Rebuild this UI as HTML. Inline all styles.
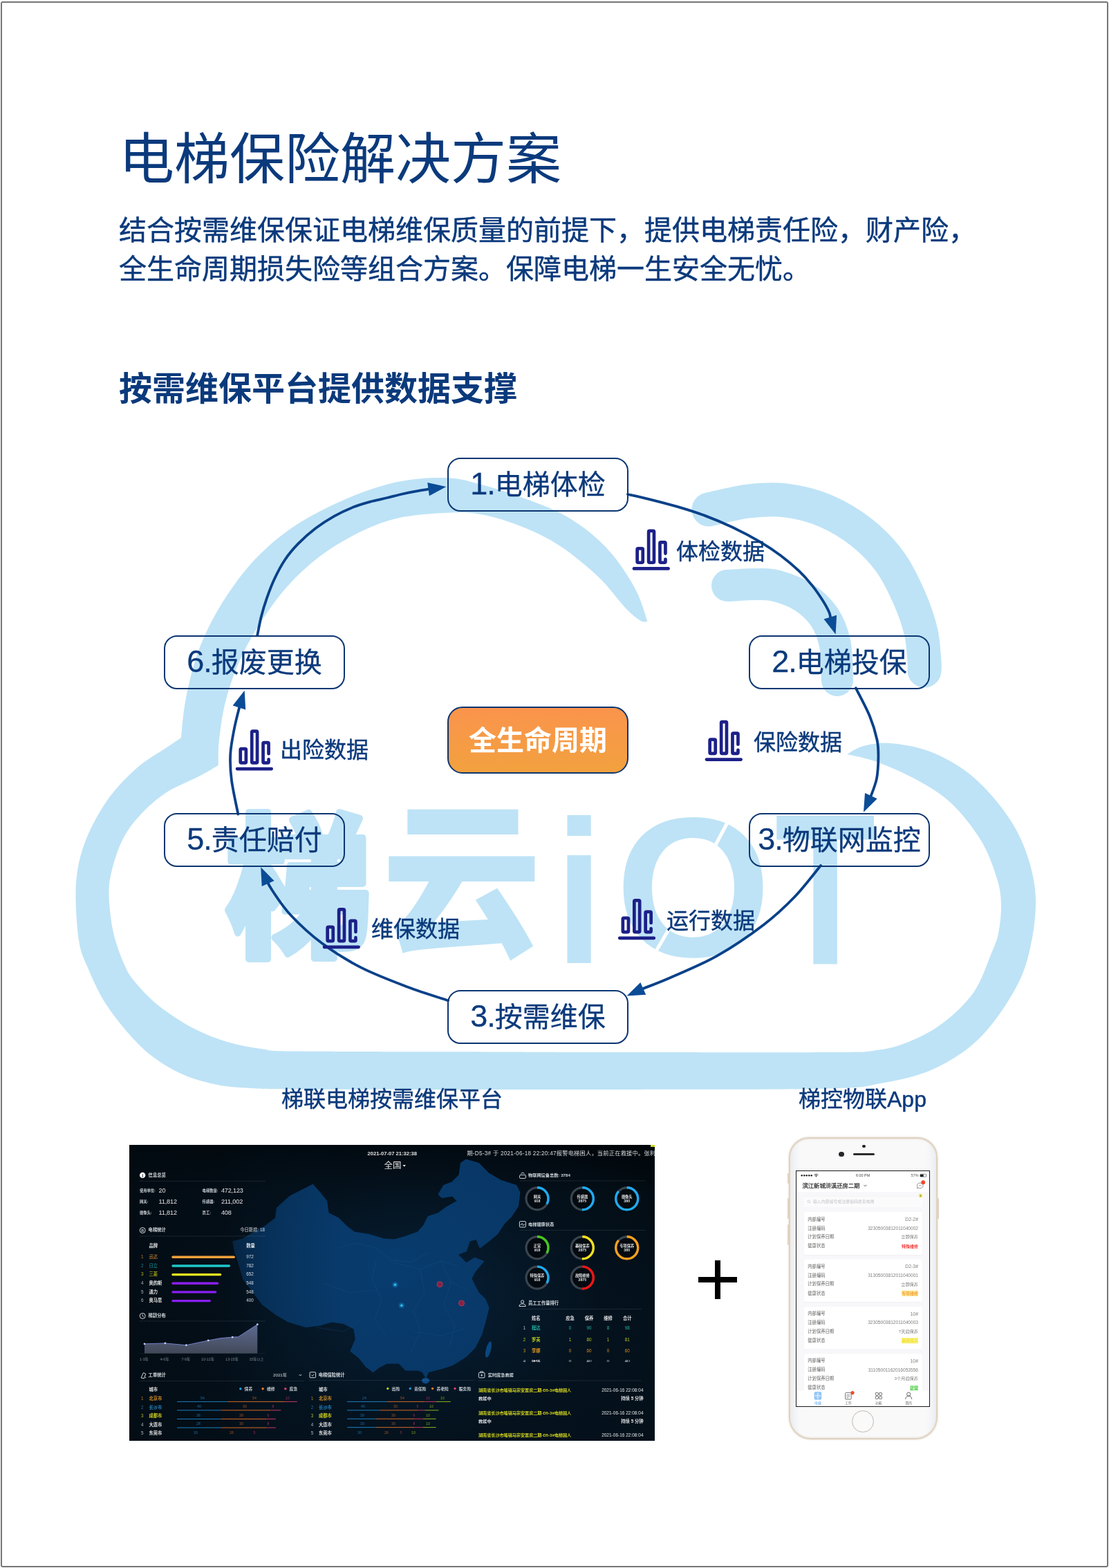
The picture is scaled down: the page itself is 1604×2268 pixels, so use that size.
<!DOCTYPE html>
<html lang="zh-CN">
<head>
<meta charset="utf-8">
<title>电梯保险解决方案</title>
<style>
*{box-sizing:border-box;margin:0;padding:0}
html,body{width:1604px;height:2268px;background:#fff;overflow:hidden}
body{font-family:"Liberation Sans","Noto Sans CJK SC",sans-serif;color:#0b3a7c;position:relative}
#desc,.lab,.cap{-webkit-text-stroke:.45px #0b3a7c}
.box{-webkit-text-stroke:.3px #0b3a7c}
.abs{position:absolute;white-space:nowrap}
.layer{position:absolute;left:0;top:0;width:1604px;height:2268px;pointer-events:none}
#frame{position:absolute;left:1px;top:2px;width:1602px;height:2265px;border:2px solid #757575;border-radius:3px}
#title{left:172px;top:171px;font-size:80px;line-height:120px;font-weight:400}
#desc{left:172px;top:304.5px;font-size:40px;line-height:56.5px;font-weight:400}
#sub{left:172px;top:527.5px;font-size:48px;line-height:70px;font-weight:700}
.box{position:absolute;width:262px;height:78px;border:2px solid #0b3672;border-radius:19px;font-size:40px;line-height:75px;text-align:center;white-space:nowrap}
.box b{font-weight:400;font-size:45px;letter-spacing:-1px;line-height:0}
#center{position:absolute;left:647px;top:1022px;width:262px;height:97px;border-radius:22px;border:2px solid #0b3672;background:linear-gradient(180deg,#fa944c,#f2a13f);color:#fff;font-size:40px;font-weight:700;line-height:94px;text-align:center}
.lab{position:absolute;font-size:32px;line-height:40px;white-space:nowrap}
.cap{position:absolute;font-size:32px;line-height:40px;white-space:nowrap}
#plus{position:absolute;left:1010px;top:1823px;width:56px;height:56px}
#plus:before,#plus:after{content:"";position:absolute;background:#000}
#plus:before{left:0;top:24px;width:56px;height:8px}
#plus:after{left:24px;top:0;width:8px;height:56px}

#dash{position:absolute;left:187px;top:1656px;width:760px;height:428px;overflow:hidden;background:#030b12}
#dash .bg{position:absolute;left:0;top:0;width:760px;height:428px;background:radial-gradient(ellipse 430px 290px at 410px 215px,rgba(10,50,88,.5),rgba(5,26,44,.3) 62%,rgba(3,12,20,0) 100%),linear-gradient(180deg,#01060a 0,#030c13 16%,#040f18 60%,#04101a 100%)}
#dash svg{position:absolute;left:0;top:0;width:760px;height:428px}
#dash .tx{position:absolute;left:0;top:0;width:1520px;height:856px;transform:scale(.5);transform-origin:0 0;opacity:.88;font-family:"Liberation Sans","Noto Sans CJK SC",sans-serif}
#dash .tx span{position:absolute;white-space:nowrap}


#phone{position:absolute;left:1140.7px;top:1645px;width:215.3px;height:437.4px;border-radius:29px 29px 32px 32px;background:linear-gradient(90deg,#e9edf2 0,#f2f4f7 3.5%,#f9f9fa 7%,#f9f9fa 93%,#f2f4f7 96.5%,#e9edf2 100%);border:2.4px solid #e0d2c0;box-shadow:inset 0 0 0 1.5px #f0ece7,0 0 2.5px rgba(170,155,135,.55)}
#phone .btn{position:absolute;width:1.6px;background:#e0d3c0;border-radius:1px}
#phone .cam{position:absolute;left:104.5px;top:8.8px;width:4.4px;height:4.4px;border-radius:50%;background:#222}
#phone .sen{position:absolute;left:70.6px;top:19px;width:7.4px;height:7.4px;border-radius:50%;background:#25272b}
#phone .spk{position:absolute;left:91.2px;top:21px;width:31px;height:3.4px;border-radius:2px;background:#2b2b2e}
#phone .home{position:absolute;left:89.6px;top:393.2px;width:31.6px;height:31.6px;border-radius:50%;border:1.6px solid #c9bfb4;background:#fafafa;box-shadow:inset 0 0 2px rgba(0,0,0,.12)}
#scr{position:absolute;left:1151.4px;top:1692.6px;width:193.7px;height:342.2px;border:1.2px solid #1a1a1a;background:#f8f8fa;overflow:hidden}
#scr .in{position:absolute;left:0;top:0;width:385px;height:682px;transform:scale(.5);transform-origin:0 0;font-family:"Liberation Sans","Noto Sans CJK SC",sans-serif}
#scr .in span,#scr .in i{position:absolute;white-space:nowrap;display:block;font-style:normal}
#scr svg{position:absolute;left:0;top:0;width:192.5px;height:341px}
#scr .hd{position:absolute;left:0;top:0;width:192.5px;height:30px;background:#fff}

</style>
</head>
<body>
<div id="frame"></div>
<svg id="cloud" class="layer" width="1604" height="2268" viewBox="0 0 1604 2268">
<g fill="#bee3f6" stroke="none">
<path d="M936.5 899.0C934.0 891.9 928.4 871.0 921.2 856.4C914.0 841.8 902.5 824.1 893.1 811.5C883.7 798.9 874.4 789.5 865.0 780.6C855.6 771.7 847.3 765.2 837.0 758.2C826.7 751.2 816.1 744.7 803.3 738.6C790.5 732.5 777.2 727.6 760.0 721.5C742.8 715.4 718.8 707.0 700.0 702.0C681.2 697.0 668.0 692.1 647.4 691.2C626.8 690.3 600.6 691.8 576.3 696.8C552.0 701.8 526.4 710.6 501.5 721.2C476.6 731.8 448.5 746.1 426.7 760.4C404.9 774.7 386.8 790.7 370.6 807.2C354.4 823.7 341.2 842.1 329.4 859.6C317.5 877.1 307.6 895.2 299.5 912.0C291.4 928.8 286.1 943.1 280.8 960.6C275.5 978.1 270.8 999.0 267.7 1016.7C264.6 1034.4 262.9 1058.6 262.0 1067.0C258.3 1069.5 249.6 1075.6 239.6 1082.3C229.6 1089.0 214.7 1096.9 202.2 1107.3C189.7 1117.7 175.2 1132.2 164.8 1144.7C154.4 1157.2 147.0 1169.5 139.9 1182.0C132.8 1194.5 127.0 1207.0 122.4 1219.5C117.8 1232.0 114.6 1243.6 112.4 1257.0C110.2 1270.4 109.2 1282.8 109.5 1300.0C109.8 1317.2 111.4 1344.2 114.0 1360.0C116.6 1375.8 118.1 1379.2 124.9 1395.0C131.7 1410.8 141.5 1434.8 154.8 1454.8C168.1 1474.8 188.1 1498.9 204.7 1514.7C221.3 1530.5 238.0 1540.9 254.6 1549.6C271.2 1558.3 287.8 1563.0 304.4 1567.0C321.0 1571.0 333.5 1572.1 354.3 1573.5C375.1 1574.9 371.4 1575.1 429.0 1575.5C486.6 1575.9 618.2 1575.9 700.0 1576.0C781.8 1576.1 836.8 1576.2 920.0 1576.0C1003.2 1575.8 1140.0 1576.0 1199.0 1574.5C1258.0 1573.0 1248.9 1571.6 1273.8 1567.0C1298.7 1562.4 1325.3 1557.4 1348.6 1547.0C1371.9 1536.6 1394.4 1522.5 1413.5 1504.7C1432.6 1486.9 1450.6 1460.8 1463.0 1440.0C1475.4 1419.2 1482.2 1403.2 1488.0 1380.0C1493.8 1356.8 1498.7 1325.7 1498.0 1301.0C1497.3 1276.3 1491.5 1253.2 1484.0 1232.0C1476.5 1210.8 1466.5 1192.7 1453.0 1174.0C1439.5 1155.3 1421.0 1134.5 1403.0 1120.0C1385.0 1105.5 1364.3 1094.5 1345.0 1087.0C1325.7 1079.5 1303.0 1076.3 1287.0 1075.0C1271.0 1073.7 1259.3 1076.3 1249.0 1079.0C1238.7 1081.7 1229.0 1089.0 1225.0 1091.0C1232.2 1092.8 1251.2 1095.8 1268.0 1102.0C1284.8 1108.2 1308.0 1118.0 1326.0 1128.0C1344.0 1138.0 1360.5 1147.3 1376.0 1162.0C1391.5 1176.7 1408.0 1197.8 1419.0 1216.0C1430.0 1234.2 1437.2 1255.5 1442.0 1271.0C1446.8 1286.5 1447.7 1295.8 1448.0 1309.0C1448.3 1322.2 1446.4 1338.2 1444.0 1350.0C1441.6 1361.8 1439.3 1365.8 1433.4 1380.0C1427.5 1394.2 1420.1 1418.3 1408.5 1434.9C1396.9 1451.5 1379.4 1467.8 1363.6 1479.8C1347.8 1491.8 1330.3 1500.5 1313.7 1507.2C1297.1 1513.9 1282.9 1517.2 1263.8 1519.7C1244.7 1522.2 1256.3 1521.6 1199.0 1522.0C1141.7 1522.4 1003.2 1522.1 920.0 1522.0C836.8 1521.9 781.8 1521.7 700.0 1521.5C618.2 1521.3 482.4 1521.3 429.0 1520.6C375.6 1519.9 395.9 1519.4 379.3 1517.2C362.7 1515.0 346.0 1512.2 329.4 1507.2C312.8 1502.2 296.1 1495.9 279.5 1487.2C262.9 1478.5 243.7 1466.0 229.6 1454.8C215.5 1443.6 203.3 1430.0 195.0 1420.0C186.7 1410.0 185.0 1406.8 179.8 1395.0C174.6 1383.2 167.7 1365.8 164.0 1349.0C160.3 1332.2 157.8 1309.3 157.5 1294.0C157.2 1278.7 159.0 1270.2 162.3 1257.0C165.6 1243.8 170.7 1227.4 177.3 1214.5C184.0 1201.6 191.8 1190.8 202.2 1179.6C212.6 1168.3 225.0 1156.6 239.6 1147.0C254.2 1137.4 276.8 1128.7 289.5 1122.0C302.2 1115.3 311.3 1109.5 315.7 1107.0C315.9 1100.8 315.3 1085.0 317.0 1070.0C318.7 1055.0 321.1 1034.9 325.7 1016.7C330.3 998.5 336.3 979.3 344.4 960.6C352.5 941.9 362.4 923.2 374.3 904.5C386.2 885.8 400.5 865.1 415.5 848.3C430.5 831.5 446.7 816.6 464.1 803.5C481.6 790.4 501.5 778.8 520.2 769.8C538.9 760.8 555.1 753.9 576.3 749.2C597.5 744.5 627.3 742.5 647.4 741.7C667.5 740.9 679.1 741.0 696.7 744.2C714.3 747.4 734.1 753.5 752.8 761.0C771.5 768.5 790.2 776.8 808.9 789.0C827.6 801.2 849.1 819.0 865.0 834.0C880.9 849.0 894.1 868.3 904.3 878.9C914.5 889.5 920.6 894.1 926.0 897.5C931.4 900.9 934.8 898.8 936.5 899.0Z"/>
</g>
<g fill="none" stroke="#bee3f6" stroke-linecap="round">
<path d="M1025.0 737.0C1034.5 735.0 1063.2 727.2 1082.0 725.0C1100.8 722.8 1119.0 721.7 1137.7 724.0C1156.4 726.3 1176.0 731.3 1194.0 739.0C1212.0 746.7 1230.4 757.7 1246.0 770.0C1261.6 782.3 1275.9 797.0 1287.4 812.8C1299.0 828.6 1307.9 848.1 1315.3 865.0C1322.7 881.9 1328.4 898.7 1332.0 914.0C1335.6 929.3 1336.2 947.7 1337.0 957.0C1337.8 966.3 1337.0 967.8 1337.0 970.0" stroke-width="49"/>
<path d="M1052.0 847.0C1059.5 846.7 1084.8 844.8 1097.0 845.0C1109.2 845.2 1114.2 844.9 1125.0 848.0C1135.8 851.1 1150.8 856.2 1162.0 863.5C1173.2 870.8 1184.4 880.8 1192.0 892.0C1199.6 903.2 1204.4 915.7 1207.6 931.0C1210.8 946.3 1210.4 975.2 1211.0 984.0" stroke-width="46"/>
</g>
<g fill="#bee3f6" stroke="none"><text transform="matrix(1.0503 0 0 1.1050 327.1 1364.5)" font-family='"Noto Sans CJK SC",sans-serif' font-weight="900" font-size="200" stroke="#bee3f6" stroke-width="9" stroke-linejoin="round">梯</text><text transform="matrix(1.1538 0 0 1.2099 552.6 1363.6)" font-family='"Noto Sans CJK SC",sans-serif' font-weight="900" font-size="200">云</text><text transform="matrix(1.2481 0 0 1.4759 803.0 1393.0)" font-family='"Liberation Sans",sans-serif' font-weight="700" font-size="200">i</text><text transform="matrix(1.9706 0 0 1.7436 881.9 1379.0)" font-family='"DejaVu Sans",sans-serif' font-weight="400" font-size="200" stroke="#bee3f6" stroke-width="2" stroke-linejoin="round">o</text><text transform="matrix(1.1949 0 0 1.5620 1120.6 1394.6)" font-family='"Liberation Sans",sans-serif' font-weight="700" font-size="200">T</text></g><g stroke="#fff" stroke-width="5" fill="none"><path d="M1029.5 1232.5L1053 1188"/><path d="M973 1334.5L947 1379"/></g>
</svg>
<div id="dash"><div class="bg"></div>
<svg viewBox="0 0 760 428">
<defs><radialGradient id="mg" cx="0.55" cy="0.5" r="0.6"><stop offset="0" stop-color="#083c6e"/><stop offset="1" stop-color="#083766"/></radialGradient><linearGradient id="ag" x1="0" y1="0" x2="0" y2="1"><stop offset="0" stop-color="#7a86b8" stop-opacity=".75"/><stop offset="1" stop-color="#8b8fa8" stop-opacity=".45"/></linearGradient></defs>
<polygon points="265.3,57.6 275.3,68.8 285.3,81.3 287.8,98.7 302.7,106.2 315.2,118.7 325.2,126.2 347.6,129.9 367.6,136.1 382.5,137.4 400.0,132.4 417.4,126.2 426.2,116.2 432.4,103.7 447.4,98.7 457.3,91.3 474.8,81.3 467.3,73.8 452.4,76.3 447.4,71.3 454.8,58.8 467.3,53.9 477.3,43.9 479.8,26.4 487.3,21.4 504.7,26.4 519.7,41.4 537.1,51.4 559.6,58.8 564.6,68.8 562.1,88.8 552.1,103.7 542.1,113.7 532.2,128.7 517.2,141.1 507.2,148.6 502.2,136.1 492.3,138.6 487.3,153.6 474.8,158.6 487.3,171.1 499.7,163.6 512.2,168.6 499.7,183.5 494.7,193.5 504.7,213.5 514.7,223.4 519.7,235.9 514.7,255.8 509.7,273.3 499.7,293.3 487.3,305.7 467.3,318.2 452.4,323.2 432.4,328.2 429.0,336.0 424.0,328.0 417.4,325.7 400.0,325.7 390.0,315.7 372.6,315.7 362.6,320.7 352.6,328.2 342.6,320.7 332.7,308.2 320.2,298.2 327.7,280.8 325.2,265.8 310.2,258.3 292.8,255.8 275.3,260.8 255.3,263.3 230.4,255.8 213.0,245.9 193.0,230.9 180.0,214.0 165.0,194.0 158.0,170.0 153.0,155.0 150.0,140.0 165.0,136.0 183.0,125.0 197.0,117.4 211.8,106.2 213.7,91.3 232.4,74.4 249.0,66.0" fill="url(#mg)" stroke="#083a6a" stroke-width="1.6" stroke-linejoin="round"/>
<ellipse cx="519.5" cy="296" rx="3.6" ry="12" transform="rotate(14 519.5 296)" fill="#0b477f"/>
<ellipse cx="428.5" cy="341" rx="5.5" ry="4.2" fill="#0c4a85"/>
<g fill="none" stroke="#1a5a96" stroke-width=".5" opacity=".55"><path d="M300 150l25 -8l30 6l22 18l30 4l24 -14M357 166l-6 30l14 26l-10 30l16 24M381 170l40 10l30 -12l26 8M421 180l6 34l-16 26l10 30l-14 30M451 168l14 30l24 12M465 198l-10 34l16 30l-8 30M280 200l40 14l36 -4M340 250l-30 20l-40 -6M411 270l40 6l34 -10"/></g>
<defs><linearGradient id="fd" x1="0" y1="0" x2="1" y2="0"><stop offset="0" stop-color="#030c14" stop-opacity=".7"/><stop offset=".45" stop-color="#030c14" stop-opacity=".5"/><stop offset=".62" stop-color="#04121e" stop-opacity=".22"/><stop offset="1" stop-color="#05182a" stop-opacity="0"/></linearGradient></defs><rect x="0" y="0" width="310" height="428" fill="url(#fd)"/>
<circle cx="384.5" cy="202.2" r="4" fill="#1aa0e0" opacity=".35"/><circle cx="384.5" cy="202.2" r="1.8" fill="#2cc0f5"/>
<circle cx="393.8" cy="232.2" r="4" fill="#1aa0e0" opacity=".35"/><circle cx="393.8" cy="232.2" r="1.8" fill="#2cc0f5"/>
<circle cx="449.1" cy="201.7" r="4" fill="#8a2040" stroke="#c04060" stroke-width=".8"/>
<circle cx="480.5" cy="228.9" r="4" fill="#8a2040" stroke="#c04060" stroke-width=".8"/>
<path d="M395.5 29l4.4 0l-2.2 2.4z" fill="#fff"/>
<rect x="754" y="0" width="6" height="3" fill="#c8d820"/>
<circle cx="19.2" cy="43.9" r="4.2" fill="#fff"/>
<rect x="14.5" y="52.1" width="182.4" height="0.6" fill="rgba(255,255,255,.16)"/>
<circle cx="19.2" cy="123.6" r="4" fill="none" stroke="#e8eef2" stroke-width=".9"/>
<rect x="14.5" y="131.7" width="182.4" height="0.6" fill="rgba(255,255,255,.16)"/>
<rect x="61.3" y="160.6" width="91.6" height="3.4" rx="1.7" fill="#f5a03a"/>
<rect x="61.3" y="173.3" width="84.7" height="3.4" rx="1.7" fill="#1ec8c8"/>
<rect x="61.3" y="185.9" width="72.0" height="3.4" rx="1.7" fill="#f5f51e"/>
<rect x="61.3" y="198.6" width="67.9" height="3.4" rx="1.7" fill="#8a1ef5"/>
<rect x="61.3" y="211.2" width="65.0" height="3.4" rx="1.7" fill="#8a1ef5"/>
<rect x="61.3" y="223.9" width="56.6" height="3.4" rx="1.7" fill="#8a1ef5"/>
<circle cx="19.2" cy="247.4" r="4" fill="none" stroke="#e8eef2" stroke-width=".9"/><path d="M19.2 245.0v2.6l1.8 1" fill="none" stroke="#e8eef2" stroke-width=".8"/>
<rect x="14.5" y="254.6" width="182.4" height="0.6" fill="rgba(255,255,255,.16)"/>
<path d="M22 301.6 L22.0 287.8 L51.9 286.9 L82.4 289.7 L114.2 282.9 L132.0 279.6 L149.2 278.1 L157.6 277.7 L185.3 259.7 L185.3 301.6Z" fill="url(#ag)"/>
<path d="M22.0 287.8 L51.9 286.9 L82.4 289.7 L114.2 282.9 L132.0 279.6 L149.2 278.1 L157.6 277.7 L185.3 259.7" fill="none" stroke="#7c8ad8" stroke-width=".9"/>
<circle cx="22.0" cy="287.8" r="1.4" fill="#c8d0f5"/>
<circle cx="51.9" cy="286.9" r="1.4" fill="#c8d0f5"/>
<circle cx="82.4" cy="289.7" r="1.4" fill="#c8d0f5"/>
<circle cx="114.2" cy="282.9" r="1.4" fill="#c8d0f5"/>
<circle cx="149.2" cy="278.1" r="1.4" fill="#c8d0f5"/>
<circle cx="185.3" cy="259.7" r="1.4" fill="#c8d0f5"/>
<rect x="14.5" y="301.5" width="182.4" height="0.6" fill="rgba(255,255,255,.10)"/>
<path d="M17 337l3.4 -7.4l3.4 1.6l-2.4 6.6z" fill="none" stroke="#e8eef2" stroke-width=".9"/><circle cx="23.6" cy="336.6" r=".7" fill="#e8eef2"/>
<path d="M245.6 332l1.8 1.9l1.8 -1.9" fill="none" stroke="#e8eef2" stroke-width=".9"/>
<rect x="14.5" y="341.2" width="238.5" height="0.6" fill="rgba(255,255,255,.16)"/>
<circle cx="160.8" cy="352.7" r="1.7" fill="#1ea0e6"/>
<circle cx="193.1" cy="352.7" r="1.7" fill="#f57e28"/>
<circle cx="225.8" cy="352.7" r="1.7" fill="#f03c78"/>
<rect x="69.1" y="370.9" width="73.5" height="0.9" fill="#1e8cd2"/>
<rect x="142.6" y="370.9" width="82.3" height="0.9" fill="#e8742a"/>
<rect x="224.9" y="370.9" width="17.8" height="0.9" fill="#e03c6e"/>
<rect x="69.1" y="383.4" width="63.8" height="0.9" fill="#1e8cd2"/>
<rect x="132.9" y="383.4" width="71.4" height="0.9" fill="#e8742a"/>
<rect x="204.3" y="383.4" width="15.0" height="0.9" fill="#e03c6e"/>
<rect x="69.1" y="396.1" width="63.8" height="0.9" fill="#1e8cd2"/>
<rect x="132.9" y="396.1" width="65.8" height="0.9" fill="#e8742a"/>
<rect x="198.7" y="396.1" width="13.1" height="0.9" fill="#e03c6e"/>
<rect x="69.1" y="408.6" width="63.8" height="0.9" fill="#1e8cd2"/>
<rect x="132.9" y="408.6" width="65.8" height="0.9" fill="#e8742a"/>
<rect x="198.7" y="408.6" width="13.1" height="0.9" fill="#e03c6e"/>
<rect x="261.0" y="328.7" width="8.6" height="8" rx="1.2" fill="none" stroke="#e8eef2" stroke-width=".9"/><path d="M263.3 332.7l1.6 1.6l2.4 -2.8" fill="none" stroke="#e8eef2" stroke-width=".8"/>
<rect x="260.3" y="340.3" width="239.4" height="0.6" fill="rgba(255,255,255,.16)"/>
<circle cx="373.8" cy="352.4" r="1.6" fill="#b4e61e"/>
<circle cx="406.2" cy="352.4" r="1.6" fill="#1ea0e6"/>
<circle cx="438.6" cy="352.4" r="1.6" fill="#f57e28"/>
<circle cx="471.0" cy="352.4" r="1.6" fill="#f03c78"/>
<rect x="315.2" y="370.9" width="57.4" height="0.9" fill="#1e8cd2"/>
<rect x="372.6" y="370.9" width="54.8" height="0.9" fill="#e8742a"/>
<rect x="427.4" y="370.9" width="16.2" height="0.9" fill="#e03c6e"/>
<rect x="443.6" y="370.9" width="21.2" height="0.9" fill="#9ac81e"/>
<rect x="315.2" y="383.4" width="47.4" height="0.9" fill="#1e8cd2"/>
<rect x="362.6" y="383.4" width="54.8" height="0.9" fill="#e8742a"/>
<rect x="417.4" y="383.4" width="10.0" height="0.9" fill="#e03c6e"/>
<rect x="427.4" y="383.4" width="20.0" height="0.9" fill="#9ac81e"/>
<rect x="315.2" y="395.8" width="41.8" height="0.9" fill="#1e8cd2"/>
<rect x="357.0" y="395.8" width="55.0" height="0.9" fill="#e8742a"/>
<rect x="412.0" y="395.8" width="13.0" height="0.9" fill="#e03c6e"/>
<rect x="425.0" y="395.8" width="18.6" height="0.9" fill="#9ac81e"/>
<rect x="315.2" y="408.2" width="41.8" height="0.9" fill="#1e8cd2"/>
<rect x="357.0" y="408.2" width="55.0" height="0.9" fill="#e8742a"/>
<rect x="412.0" y="408.2" width="13.0" height="0.9" fill="#e03c6e"/>
<rect x="425.0" y="408.2" width="18.6" height="0.9" fill="#9ac81e"/>
<path d="M564.6 47.4v-2.6q0 -1.4 1.4 -1.4h6q1.4 0 1.4 1.4v2.6q0 1 -1 1h-6.8q-1 0 -1 -1zM566.4 41.4q2.6 -2.4 5.2 0" fill="none" stroke="#e8eef2" stroke-width=".9"/>
<rect x="564.9" y="51.7" width="181.5" height="0.6" fill="rgba(255,255,255,.16)"/>
<circle cx="590.0" cy="77.8" r="16" fill="#030a10" stroke="#39444e" stroke-width="3.2"/>
<circle cx="590.0" cy="77.8" r="16" fill="none" stroke="#1eaaf0" stroke-width="3.4" stroke-dasharray="33.18 100.53" transform="rotate(-90 590.0 77.8)"/>
<circle cx="655.3" cy="77.8" r="16" fill="#030a10" stroke="#39444e" stroke-width="3.2"/>
<circle cx="655.3" cy="77.8" r="16" fill="none" stroke="#1eaaf0" stroke-width="3.4" stroke-dasharray="50.27 100.53" transform="rotate(-90 655.3 77.8)"/>
<circle cx="719.7" cy="77.8" r="16" fill="#030a10" stroke="#39444e" stroke-width="3.2"/>
<circle cx="719.7" cy="77.8" r="16" fill="none" stroke="#1eaaf0" stroke-width="3.4" stroke-dasharray="86.46 100.53" transform="rotate(-90 719.7 77.8)"/>
<rect x="564.4" y="110.6" width="9" height="8.4" rx="1.2" fill="none" stroke="#e8eef2" stroke-width=".9"/><path d="M565.6 115.4h1.6l1 -2l1.4 3.4l1 -1.6h1.8" fill="none" stroke="#e8eef2" stroke-width=".7"/>
<rect x="564.9" y="123.1" width="181.5" height="0.6" fill="rgba(255,255,255,.16)"/>
<circle cx="590.0" cy="148.8" r="16" fill="#030a10" stroke="#39444e" stroke-width="3.2"/>
<circle cx="590.0" cy="148.8" r="16" fill="none" stroke="#46c81e" stroke-width="3.4" stroke-dasharray="33.18 100.53" transform="rotate(-90 590.0 148.8)"/>
<circle cx="655.3" cy="148.8" r="16" fill="#030a10" stroke="#39444e" stroke-width="3.2"/>
<circle cx="655.3" cy="148.8" r="16" fill="none" stroke="#f5e11e" stroke-width="3.4" stroke-dasharray="50.27 100.53" transform="rotate(-90 655.3 148.8)"/>
<circle cx="719.7" cy="148.8" r="16" fill="#030a10" stroke="#39444e" stroke-width="3.2"/>
<circle cx="719.7" cy="148.8" r="16" fill="none" stroke="#f5a01e" stroke-width="3.4" stroke-dasharray="86.46 100.53" transform="rotate(-90 719.7 148.8)"/>
<circle cx="590.0" cy="192.1" r="16" fill="#030a10" stroke="#39444e" stroke-width="3.2"/>
<circle cx="590.0" cy="192.1" r="16" fill="none" stroke="#1eaaf0" stroke-width="3.4" stroke-dasharray="33.18 100.53" transform="rotate(-90 590.0 192.1)"/>
<circle cx="655.3" cy="192.1" r="16" fill="#030a10" stroke="#39444e" stroke-width="3.2"/>
<circle cx="655.3" cy="192.1" r="16" fill="none" stroke="#f01414" stroke-width="3.4" stroke-dasharray="50.27 100.53" transform="rotate(-90 655.3 192.1)"/>
<circle cx="568.6" cy="226.9" r="2.1" fill="none" stroke="#e8eef2" stroke-width=".9"/><path d="M564.0 233.5q0 -3.6 4.6 -3.6q4.6 0 4.6 3.6z" fill="none" stroke="#e8eef2" stroke-width=".9"/>
<rect x="564.9" y="237.3" width="175.9" height="0.6" fill="rgba(255,255,255,.16)"/>
<rect x="505.4" y="329.4" width="8.6" height="7.4" rx="1.2" fill="none" stroke="#e8eef2" stroke-width=".9"/><path d="M507.8 329.2v-1.4h3.8v1.4M509.7 331.4v3.4M508 333.1h3.4" fill="none" stroke="#e8eef2" stroke-width=".8"/>
<rect x="504.0" y="340.7" width="236.8" height="0.6" fill="rgba(255,255,255,.16)"/>
</svg>
<div class="tx">
<span style="top:14.2px;font-size:15.2px;line-height:21.3px;color:#fff;left:660.6px;width:200px;text-align:center;font-weight:700;">2021-07-07 21:32:38</span>
<span style="top:42.3px;font-size:25.0px;line-height:35.0px;color:#fff;left:662.0px;width:200px;text-align:center;">全国</span>
<span style="top:11.5px;font-size:16.4px;line-height:23.0px;color:#eef2f5;left:976.8px;letter-spacing:0.5px;">期-D5-3# 于 2021-06-18 22:20:47报警电梯困人，当前正在救援中。张利</span>
<span style="top:77.9px;font-size:14.4px;line-height:20.2px;color:#06121c;left:-61.6px;width:200px;text-align:center;font-weight:700;">i</span>
<span style="top:79.0px;font-size:12.6px;line-height:17.6px;color:#eef3f6;left:55.2px;font-weight:700;">信息总览</span>
<span style="top:124.6px;font-size:10.6px;line-height:14.8px;color:#dfe6ea;left:29.8px;font-weight:700;">使用单位:</span>
<span style="top:119.3px;font-size:18.2px;line-height:25.5px;color:#fff;left:85.2px;letter-spacing:-0.3px;">20</span>
<span style="top:124.6px;font-size:10.6px;line-height:14.8px;color:#dfe6ea;left:211.2px;font-weight:700;">电梯数量:</span>
<span style="top:119.3px;font-size:18.2px;line-height:25.5px;color:#fff;left:265.8px;letter-spacing:-0.3px;">472,123</span>
<span style="top:157.2px;font-size:10.6px;line-height:14.8px;color:#dfe6ea;left:29.8px;font-weight:700;">网关:</span>
<span style="top:151.9px;font-size:18.2px;line-height:25.5px;color:#fff;left:85.2px;letter-spacing:-0.3px;">11,812</span>
<span style="top:157.2px;font-size:10.6px;line-height:14.8px;color:#dfe6ea;left:211.2px;font-weight:700;">传感器:</span>
<span style="top:151.9px;font-size:18.2px;line-height:25.5px;color:#fff;left:265.8px;letter-spacing:-0.3px;">211,002</span>
<span style="top:189.4px;font-size:10.6px;line-height:14.8px;color:#dfe6ea;left:29.8px;font-weight:700;">摄像头:</span>
<span style="top:184.1px;font-size:18.2px;line-height:25.5px;color:#fff;left:85.2px;letter-spacing:-0.3px;">11,812</span>
<span style="top:189.4px;font-size:10.6px;line-height:14.8px;color:#dfe6ea;left:211.2px;font-weight:700;">员工:</span>
<span style="top:184.1px;font-size:18.2px;line-height:25.5px;color:#fff;left:265.8px;letter-spacing:-0.3px;">408</span>
<span style="top:239.8px;font-size:10.8px;line-height:15.1px;color:#e8eef2;left:-61.4px;width:200px;text-align:center;font-weight:700;">R</span>
<span style="top:238.4px;font-size:12.6px;line-height:17.6px;color:#eef3f6;left:55.2px;font-weight:700;">电梯统计</span>
<span style="top:238.4px;font-size:12.6px;line-height:17.6px;color:#e8eef2;right:1128.2px;text-align:right;">今日新增: 18</span>
<span style="top:283.0px;font-size:12.6px;line-height:17.6px;color:#fff;left:57.0px;font-weight:700;">品牌</span>
<span style="top:283.0px;font-size:12.6px;line-height:17.6px;color:#fff;left:338.4px;font-weight:700;">数量</span>
<span style="top:315.8px;font-size:12.6px;line-height:17.6px;color:#f5a03a;left:33.8px;opacity:0.85;">1</span>
<span style="top:315.8px;font-size:12.6px;line-height:17.6px;color:#f5a03a;left:57.0px;">迅达</span>
<span style="top:315.8px;font-size:12.6px;line-height:17.6px;color:#e8eef2;left:338.4px;">972</span>
<span style="top:341.1px;font-size:12.6px;line-height:17.6px;color:#18b4b4;left:33.8px;opacity:0.85;">2</span>
<span style="top:341.1px;font-size:12.6px;line-height:17.6px;color:#18b4b4;left:57.0px;">日立</span>
<span style="top:341.1px;font-size:12.6px;line-height:17.6px;color:#e8eef2;left:338.4px;">782</span>
<span style="top:366.4px;font-size:12.6px;line-height:17.6px;color:#e8e81e;left:33.8px;opacity:0.85;">3</span>
<span style="top:366.4px;font-size:12.6px;line-height:17.6px;color:#e8e81e;left:57.0px;">三菱</span>
<span style="top:366.4px;font-size:12.6px;line-height:17.6px;color:#e8eef2;left:338.4px;">652</span>
<span style="top:391.7px;font-size:12.6px;line-height:17.6px;color:#e0e6ea;left:33.8px;opacity:0.85;">4</span>
<span style="top:391.7px;font-size:12.6px;line-height:17.6px;color:#fff;left:57.0px;font-weight:700;">奥的斯</span>
<span style="top:391.7px;font-size:12.6px;line-height:17.6px;color:#e8eef2;left:338.4px;">548</span>
<span style="top:417.0px;font-size:12.6px;line-height:17.6px;color:#e0e6ea;left:33.8px;opacity:0.85;">5</span>
<span style="top:417.0px;font-size:12.6px;line-height:17.6px;color:#fff;left:57.0px;font-weight:700;">通力</span>
<span style="top:417.0px;font-size:12.6px;line-height:17.6px;color:#e8eef2;left:338.4px;">548</span>
<span style="top:442.3px;font-size:12.6px;line-height:17.6px;color:#e0e6ea;left:33.8px;opacity:0.85;">6</span>
<span style="top:442.3px;font-size:12.6px;line-height:17.6px;color:#fff;left:57.0px;font-weight:700;">奥马思</span>
<span style="top:442.3px;font-size:12.6px;line-height:17.6px;color:#e8eef2;left:338.4px;">400</span>
<span style="top:486.0px;font-size:12.6px;line-height:17.6px;color:#eef3f6;left:55.2px;font-weight:700;">梯龄分布</span>
<span style="top:613.1px;font-size:10.4px;line-height:14.6px;color:#8d979f;left:-57.2px;width:200px;text-align:center;">1-3年</span>
<span style="top:613.1px;font-size:10.4px;line-height:14.6px;color:#8d979f;left:2.0px;width:200px;text-align:center;">4-6年</span>
<span style="top:613.1px;font-size:10.4px;line-height:14.6px;color:#8d979f;left:63.6px;width:200px;text-align:center;">7-9年</span>
<span style="top:613.1px;font-size:10.4px;line-height:14.6px;color:#8d979f;left:127.2px;width:200px;text-align:center;">10-12年</span>
<span style="top:613.1px;font-size:10.4px;line-height:14.6px;color:#8d979f;left:197.2px;width:200px;text-align:center;">13-15年</span>
<span style="top:613.1px;font-size:10.4px;line-height:14.6px;color:#8d979f;left:268.2px;width:200px;text-align:center;">15年以上</span>
<span style="top:657.2px;font-size:12.6px;line-height:17.6px;color:#eef3f6;left:55.2px;font-weight:700;">工单统计</span>
<span style="top:657.3px;font-size:12.4px;line-height:17.4px;color:#e8eef2;left:416.0px;">2021年</span>
<span style="top:697.3px;font-size:11.6px;line-height:16.2px;color:#e0e6ea;left:333.2px;font-weight:700;">保养</span>
<span style="top:697.3px;font-size:11.6px;line-height:16.2px;color:#e0e6ea;left:397.8px;font-weight:700;">维修</span>
<span style="top:697.3px;font-size:11.6px;line-height:16.2px;color:#e0e6ea;left:463.2px;font-weight:700;">应急</span>
<span style="top:699.6px;font-size:12.6px;line-height:17.6px;color:#fff;left:57.0px;font-weight:700;">城市</span>
<span style="top:725.8px;font-size:12.6px;line-height:17.6px;color:#f0a028;left:33.8px;opacity:0.85;">1</span>
<span style="top:725.8px;font-size:12.6px;line-height:17.6px;color:#f0a028;left:57.0px;font-weight:700;">北京市</span>
<span style="top:724.9px;font-size:10.4px;line-height:14.6px;color:#1e7ab8;left:112.0px;width:200px;text-align:center;">54</span>
<span style="top:724.9px;font-size:10.4px;line-height:14.6px;color:#b85e28;left:262.0px;width:200px;text-align:center;">54</span>
<span style="top:724.9px;font-size:10.4px;line-height:14.6px;color:#b03060;left:358.0px;width:200px;text-align:center;">10</span>
<span style="top:750.8px;font-size:12.6px;line-height:17.6px;color:#2890d0;left:33.8px;opacity:0.85;">2</span>
<span style="top:750.8px;font-size:12.6px;line-height:17.6px;color:#2890d0;left:57.0px;font-weight:700;">长沙市</span>
<span style="top:749.9px;font-size:10.4px;line-height:14.6px;color:#1e7ab8;left:102.0px;width:200px;text-align:center;">40</span>
<span style="top:749.9px;font-size:10.4px;line-height:14.6px;color:#b85e28;left:234.0px;width:200px;text-align:center;">30</span>
<span style="top:749.9px;font-size:10.4px;line-height:14.6px;color:#b03060;left:316.0px;width:200px;text-align:center;">8</span>
<span style="top:776.2px;font-size:12.6px;line-height:17.6px;color:#e8e81e;left:33.8px;opacity:0.85;">3</span>
<span style="top:776.2px;font-size:12.6px;line-height:17.6px;color:#e8e81e;left:57.0px;font-weight:700;">成都市</span>
<span style="top:775.3px;font-size:10.4px;line-height:14.6px;color:#1e7ab8;left:100.0px;width:200px;text-align:center;">36</span>
<span style="top:775.3px;font-size:10.4px;line-height:14.6px;color:#b85e28;left:224.0px;width:200px;text-align:center;">39</span>
<span style="top:775.3px;font-size:10.4px;line-height:14.6px;color:#b03060;left:302.0px;width:200px;text-align:center;">6</span>
<span style="top:801.2px;font-size:12.6px;line-height:17.6px;color:#e0e6ea;left:33.8px;opacity:0.85;">4</span>
<span style="top:801.2px;font-size:12.6px;line-height:17.6px;color:#fff;left:57.0px;font-weight:700;">大连市</span>
<span style="top:800.3px;font-size:10.4px;line-height:14.6px;color:#1e7ab8;left:100.0px;width:200px;text-align:center;">28</span>
<span style="top:800.3px;font-size:10.4px;line-height:14.6px;color:#b85e28;left:224.0px;width:200px;text-align:center;">30</span>
<span style="top:800.3px;font-size:10.4px;line-height:14.6px;color:#b03060;left:302.0px;width:200px;text-align:center;">8</span>
<span style="top:826.4px;font-size:12.6px;line-height:17.6px;color:#e0e6ea;left:33.8px;opacity:0.85;">5</span>
<span style="top:826.4px;font-size:12.6px;line-height:17.6px;color:#fff;left:57.0px;font-weight:700;">东莞市</span>
<span style="top:825.5px;font-size:10.4px;line-height:14.6px;color:#1e7ab8;left:92.0px;width:200px;text-align:center;">30</span>
<span style="top:825.5px;font-size:10.4px;line-height:14.6px;color:#b85e28;left:196.0px;width:200px;text-align:center;">26</span>
<span style="top:825.5px;font-size:10.4px;line-height:14.6px;color:#b03060;left:262.0px;width:200px;text-align:center;">5</span>
<span style="top:656.6px;font-size:12.6px;line-height:17.6px;color:#eef3f6;left:547.4px;font-weight:700;">电梯保险统计</span>
<span style="top:696.7px;font-size:11.6px;line-height:16.2px;color:#e0e6ea;left:759.2px;font-weight:700;">出险</span>
<span style="top:696.7px;font-size:11.6px;line-height:16.2px;color:#e0e6ea;left:824.0px;font-weight:700;">责任险</span>
<span style="top:696.7px;font-size:11.6px;line-height:16.2px;color:#e0e6ea;left:888.8px;font-weight:700;">养老险</span>
<span style="top:696.7px;font-size:11.6px;line-height:16.2px;color:#e0e6ea;left:953.6px;font-weight:700;">服务险</span>
<span style="top:700.0px;font-size:12.6px;line-height:17.6px;color:#fff;left:548.0px;font-weight:700;">城市</span>
<span style="top:725.8px;font-size:12.6px;line-height:17.6px;color:#f0a028;left:525.6px;opacity:0.85;">1</span>
<span style="top:725.8px;font-size:12.6px;line-height:17.6px;color:#f0a028;left:548.0px;font-weight:700;">北京市</span>
<span style="top:724.9px;font-size:10.4px;line-height:14.6px;color:#1e7ab8;left:580.0px;width:200px;text-align:center;">24</span>
<span style="top:724.9px;font-size:10.4px;line-height:14.6px;color:#b85e28;left:690.0px;width:200px;text-align:center;">54</span>
<span style="top:724.9px;font-size:10.4px;line-height:14.6px;color:#b03060;left:764.0px;width:200px;text-align:center;">10</span>
<span style="top:724.9px;font-size:10.4px;line-height:14.6px;color:#8ab41e;left:806.0px;width:200px;text-align:center;">10</span>
<span style="top:750.8px;font-size:12.6px;line-height:17.6px;color:#2890d0;left:525.6px;opacity:0.85;">2</span>
<span style="top:750.8px;font-size:12.6px;line-height:17.6px;color:#2890d0;left:548.0px;font-weight:700;">长沙市</span>
<span style="top:749.9px;font-size:10.4px;line-height:14.6px;color:#1e7ab8;left:576.0px;width:200px;text-align:center;">40</span>
<span style="top:749.9px;font-size:10.4px;line-height:14.6px;color:#b85e28;left:670.0px;width:200px;text-align:center;">30</span>
<span style="top:749.9px;font-size:10.4px;line-height:14.6px;color:#b03060;left:734.0px;width:200px;text-align:center;">6</span>
<span style="top:749.9px;font-size:10.4px;line-height:14.6px;color:#8ab41e;left:774.0px;width:200px;text-align:center;">10</span>
<span style="top:775.6px;font-size:12.6px;line-height:17.6px;color:#e8e81e;left:525.6px;opacity:0.85;">3</span>
<span style="top:775.6px;font-size:12.6px;line-height:17.6px;color:#e8e81e;left:548.0px;font-weight:700;">成都市</span>
<span style="top:774.7px;font-size:10.4px;line-height:14.6px;color:#1e7ab8;left:574.0px;width:200px;text-align:center;">30</span>
<span style="top:774.7px;font-size:10.4px;line-height:14.6px;color:#b85e28;left:664.0px;width:200px;text-align:center;">30</span>
<span style="top:774.7px;font-size:10.4px;line-height:14.6px;color:#b03060;left:724.0px;width:200px;text-align:center;">6</span>
<span style="top:774.7px;font-size:10.4px;line-height:14.6px;color:#8ab41e;left:764.0px;width:200px;text-align:center;">10</span>
<span style="top:800.6px;font-size:12.6px;line-height:17.6px;color:#e0e6ea;left:525.6px;opacity:0.85;">4</span>
<span style="top:800.6px;font-size:12.6px;line-height:17.6px;color:#fff;left:548.0px;font-weight:700;">大连市</span>
<span style="top:799.7px;font-size:10.4px;line-height:14.6px;color:#1e7ab8;left:574.0px;width:200px;text-align:center;">30</span>
<span style="top:799.7px;font-size:10.4px;line-height:14.6px;color:#b85e28;left:664.0px;width:200px;text-align:center;">30</span>
<span style="top:799.7px;font-size:10.4px;line-height:14.6px;color:#b03060;left:724.0px;width:200px;text-align:center;">8</span>
<span style="top:799.7px;font-size:10.4px;line-height:14.6px;color:#8ab41e;left:764.0px;width:200px;text-align:center;">10</span>
<span style="top:825.6px;font-size:12.6px;line-height:17.6px;color:#e0e6ea;left:525.6px;opacity:0.85;">5</span>
<span style="top:825.6px;font-size:12.6px;line-height:17.6px;color:#fff;left:548.0px;font-weight:700;">东莞市</span>
<span style="top:824.7px;font-size:10.4px;line-height:14.6px;color:#1e7ab8;left:566.0px;width:200px;text-align:center;">30</span>
<span style="top:824.7px;font-size:10.4px;line-height:14.6px;color:#b85e28;left:644.0px;width:200px;text-align:center;">26</span>
<span style="top:824.7px;font-size:10.4px;line-height:14.6px;color:#b03060;left:686.0px;width:200px;text-align:center;">5</span>
<span style="top:824.7px;font-size:10.4px;line-height:14.6px;color:#8ab41e;left:722.0px;width:200px;text-align:center;">10</span>
<span style="top:79.1px;font-size:12.4px;line-height:17.4px;color:#e8eef2;left:1154.0px;font-weight:700;">物联网设备总数: 3784</span>
<span style="top:142.5px;font-size:10.4px;line-height:14.6px;color:#fff;left:1080.0px;width:200px;text-align:center;font-weight:700;">网关</span>
<span style="top:155.7px;font-size:10.4px;line-height:14.6px;color:#fff;left:1080.0px;width:200px;text-align:center;font-weight:700;">918</span>
<span style="top:142.5px;font-size:10.4px;line-height:14.6px;color:#fff;left:1210.6px;width:200px;text-align:center;font-weight:700;">传感器</span>
<span style="top:155.7px;font-size:10.4px;line-height:14.6px;color:#fff;left:1210.6px;width:200px;text-align:center;font-weight:700;">2875</span>
<span style="top:142.5px;font-size:10.4px;line-height:14.6px;color:#fff;left:1339.4px;width:200px;text-align:center;font-weight:700;">摄像头</span>
<span style="top:155.7px;font-size:10.4px;line-height:14.6px;color:#fff;left:1339.4px;width:200px;text-align:center;font-weight:700;">380</span>
<span style="top:220.9px;font-size:12.4px;line-height:17.4px;color:#e8eef2;left:1154.0px;font-weight:700;">电梯健康状态</span>
<span style="top:284.5px;font-size:10.4px;line-height:14.6px;color:#fff;left:1080.0px;width:200px;text-align:center;font-weight:700;">正常</span>
<span style="top:297.7px;font-size:10.4px;line-height:14.6px;color:#fff;left:1080.0px;width:200px;text-align:center;font-weight:700;">918</span>
<span style="top:284.5px;font-size:10.4px;line-height:14.6px;color:#fff;left:1210.6px;width:200px;text-align:center;font-weight:700;">基础保养</span>
<span style="top:297.7px;font-size:10.4px;line-height:14.6px;color:#fff;left:1210.6px;width:200px;text-align:center;font-weight:700;">2875</span>
<span style="top:284.5px;font-size:10.4px;line-height:14.6px;color:#fff;left:1339.4px;width:200px;text-align:center;font-weight:700;">专项保养</span>
<span style="top:297.7px;font-size:10.4px;line-height:14.6px;color:#fff;left:1339.4px;width:200px;text-align:center;font-weight:700;">380</span>
<span style="top:371.1px;font-size:10.4px;line-height:14.6px;color:#fff;left:1080.0px;width:200px;text-align:center;font-weight:700;">特殊保养</span>
<span style="top:384.3px;font-size:10.4px;line-height:14.6px;color:#fff;left:1080.0px;width:200px;text-align:center;font-weight:700;">918</span>
<span style="top:371.1px;font-size:10.4px;line-height:14.6px;color:#fff;left:1210.6px;width:200px;text-align:center;font-weight:700;">故障维修</span>
<span style="top:384.3px;font-size:10.4px;line-height:14.6px;color:#fff;left:1210.6px;width:200px;text-align:center;font-weight:700;">2875</span>
<span style="top:449.4px;font-size:12.6px;line-height:17.6px;color:#eef3f6;left:1154.0px;font-weight:700;">员工工作量排行</span>
<span style="top:493.8px;font-size:12.6px;line-height:17.6px;color:#fff;left:1163.8px;font-weight:700;">姓名</span>
<span style="top:493.8px;font-size:12.6px;line-height:17.6px;color:#fff;left:1175.0px;width:200px;text-align:center;font-weight:700;">应急</span>
<span style="top:493.8px;font-size:12.6px;line-height:17.6px;color:#fff;left:1230.0px;width:200px;text-align:center;font-weight:700;">保养</span>
<span style="top:493.8px;font-size:12.6px;line-height:17.6px;color:#fff;left:1285.2px;width:200px;text-align:center;font-weight:700;">维修</span>
<span style="top:493.8px;font-size:12.6px;line-height:17.6px;color:#fff;left:1340.4px;width:200px;text-align:center;font-weight:700;">合计</span>
<span style="top:522.4px;font-size:12.6px;line-height:17.6px;color:#cfd6da;left:1042.8px;width:200px;text-align:center;">1</span>
<span style="top:522.4px;font-size:12.6px;line-height:17.6px;color:#28c8b4;left:1163.8px;font-weight:700;">程达</span>
<span style="top:522.4px;font-size:12.6px;line-height:17.6px;color:#28c8b4;left:1175.0px;width:200px;text-align:center;">0</span>
<span style="top:522.4px;font-size:12.6px;line-height:17.6px;color:#28c8b4;left:1230.0px;width:200px;text-align:center;">90</span>
<span style="top:522.4px;font-size:12.6px;line-height:17.6px;color:#28c8b4;left:1285.2px;width:200px;text-align:center;">8</span>
<span style="top:522.4px;font-size:12.6px;line-height:17.6px;color:#28c8b4;left:1340.4px;width:200px;text-align:center;">98</span>
<span style="top:555.2px;font-size:12.6px;line-height:17.6px;color:#c8dc1e;left:1042.8px;width:200px;text-align:center;">2</span>
<span style="top:555.2px;font-size:12.6px;line-height:17.6px;color:#c8dc1e;left:1163.8px;font-weight:700;">罗英</span>
<span style="top:555.2px;font-size:12.6px;line-height:17.6px;color:#c8dc1e;left:1175.0px;width:200px;text-align:center;">1</span>
<span style="top:555.2px;font-size:12.6px;line-height:17.6px;color:#c8dc1e;left:1230.0px;width:200px;text-align:center;">80</span>
<span style="top:555.2px;font-size:12.6px;line-height:17.6px;color:#c8dc1e;left:1285.2px;width:200px;text-align:center;">1</span>
<span style="top:555.2px;font-size:12.6px;line-height:17.6px;color:#c8dc1e;left:1340.4px;width:200px;text-align:center;">81</span>
<span style="top:588.0px;font-size:12.6px;line-height:17.6px;color:#f0a01e;left:1042.8px;width:200px;text-align:center;">3</span>
<span style="top:588.0px;font-size:12.6px;line-height:17.6px;color:#f0a01e;left:1163.8px;font-weight:700;">李娜</span>
<span style="top:588.0px;font-size:12.6px;line-height:17.6px;color:#f0a01e;left:1175.0px;width:200px;text-align:center;">0</span>
<span style="top:588.0px;font-size:12.6px;line-height:17.6px;color:#f0a01e;left:1230.0px;width:200px;text-align:center;">60</span>
<span style="top:588.0px;font-size:12.6px;line-height:17.6px;color:#f0a01e;left:1285.2px;width:200px;text-align:center;">0</span>
<span style="top:588.0px;font-size:12.6px;line-height:17.6px;color:#f0a01e;left:1340.4px;width:200px;text-align:center;">60</span>
<div style="position:absolute;left:1120px;top:622px;width:380px;height:6px;overflow:hidden">
<span style="top:-4.4px;font-size:12.6px;line-height:17.6px;color:#dfe6ea;left:-77.2px;width:200px;text-align:center;">4</span>
<span style="top:-4.4px;font-size:12.6px;line-height:17.6px;color:#fff;left:43.8px;font-weight:700;">张伟</span>
<span style="top:-4.4px;font-size:12.6px;line-height:17.6px;color:#fff;left:55.0px;width:200px;text-align:center;">0</span>
<span style="top:-4.4px;font-size:12.6px;line-height:17.6px;color:#fff;left:110.0px;width:200px;text-align:center;">40</span>
<span style="top:-4.4px;font-size:12.6px;line-height:17.6px;color:#fff;left:165.2px;width:200px;text-align:center;">0</span>
<span style="top:-4.4px;font-size:12.6px;line-height:17.6px;color:#fff;left:220.4px;width:200px;text-align:center;">40</span>
</div>
<span style="top:657.1px;font-size:12.4px;line-height:17.4px;color:#e8eef2;left:1037.4px;font-weight:700;">实时应急救援</span>
<span style="top:700.9px;font-size:12.4px;line-height:17.4px;color:#e6e61e;left:1010.0px;font-weight:700;letter-spacing:-0.2px;">湖南省长沙市咯镇马宗安置房二期-D5-3#电梯困人</span>
<span style="top:700.5px;font-size:13.0px;line-height:18.2px;color:#fff;right:33.0px;text-align:right;">2021-06-16 22:08:04</span>
<span style="top:766.7px;font-size:12.4px;line-height:17.4px;color:#e6e61e;left:1010.0px;font-weight:700;letter-spacing:-0.2px;">湖南省长沙市咯镇马宗安置房二期-D5-3#电梯困人</span>
<span style="top:766.3px;font-size:13.0px;line-height:18.2px;color:#fff;right:33.0px;text-align:right;">2021-06-16 22:08:04</span>
<span style="top:830.5px;font-size:12.4px;line-height:17.4px;color:#e6e61e;left:1010.0px;font-weight:700;letter-spacing:-0.2px;">湖南省长沙市咯镇马宗安置房二期-D5-3#电梯困人</span>
<span style="top:830.1px;font-size:13.0px;line-height:18.2px;color:#fff;right:33.0px;text-align:right;">2021-06-16 22:08:04</span>
<span style="top:726.1px;font-size:12.4px;line-height:17.4px;color:#fff;left:1010.0px;font-weight:700;">救援中</span>
<span style="top:726.0px;font-size:12.6px;line-height:17.6px;color:#fff;right:33.0px;text-align:right;font-weight:700;">持续 5 分钟</span>
<span style="top:792.3px;font-size:12.4px;line-height:17.4px;color:#fff;left:1010.0px;font-weight:700;">救援中</span>
<span style="top:792.2px;font-size:12.6px;line-height:17.6px;color:#fff;right:33.0px;text-align:right;font-weight:700;">持续 5 分钟</span>
</div></div>

<div id="phone"><div class="btn" style="left:-3.6px;top:50px;height:15px"></div><div class="btn" style="left:-3.6px;top:86px;height:30px"></div><div class="btn" style="left:-3.6px;top:124px;height:30px"></div><div class="btn" style="right:-3.6px;top:86px;height:30px"></div><div class="cam"></div><div class="sen"></div><div class="spk"></div><div class="home"></div></div>
<div id="scr"><div class="hd"></div><div class="in">
<i style="left:12.6px;top:10.0px;width:5.2px;height:5.2px;background:#222;border-radius:2.6px;"></i>
<i style="left:19.6px;top:10.0px;width:5.2px;height:5.2px;background:#222;border-radius:2.6px;"></i>
<i style="left:26.6px;top:10.0px;width:5.2px;height:5.2px;background:#222;border-radius:2.6px;"></i>
<i style="left:33.6px;top:10.0px;width:5.2px;height:5.2px;background:#222;border-radius:2.6px;"></i>
<i style="left:40.6px;top:10.0px;width:5.2px;height:5.2px;background:#222;border-radius:2.6px;"></i>
<span style="top:4.8px;font-size:10.8px;line-height:15.1px;color:#444;left:112.2px;width:160px;text-align:center;">6:00 PM</span>
<span style="top:4.8px;font-size:10.8px;line-height:15.1px;color:#555;right:32.0px;">57%</span>
<i style="left:356.8px;top:8.4px;width:19.2px;height:8.4px;background:linear-gradient(90deg,#222 55%,#fff 55%);border-radius:2.0px;border:1px solid #333;"></i>
<span style="-webkit-text-stroke:.5px #333;top:30.0px;font-size:16.6px;line-height:23.2px;color:#333;left:17.0px;">滨江新城浒溪还房二期</span>
<i style="left:20.2px;top:73.0px;width:345.4px;height:30.8px;background:#fbfbfc;border-radius:4.0px;box-shadow:0 0 3px rgba(0,0,0,.04);"></i>
<span style="top:79.9px;font-size:11.8px;line-height:16.5px;color:#c6c6cb;left:47.8px;">输入内部编号或注册编码搜索电梯</span>
<i style="left:354.0px;top:65.6px;width:10.0px;height:10.0px;background:#f2e84a;border-radius:2.0px;"></i>
<span style="top:65.6px;font-size:7.2px;line-height:10.1px;color:#555;left:279.0px;width:160px;text-align:center;font-weight:700;">1</span>
<i style="left:22.0px;top:118.4px;width:342.0px;height:123.2px;background:#fff;border-radius:5.0px;box-shadow:0 1px 5px rgba(0,0,0,.035);"></i>
<span style="top:130.6px;font-size:12.6px;line-height:17.6px;color:#666;left:32.6px;">内部编号</span>
<span style="top:129.7px;font-size:13.8px;line-height:19.3px;color:#808080;right:33.0px;">D2-2#</span>
<span style="top:156.6px;font-size:12.6px;line-height:17.6px;color:#666;left:32.6px;">注册编码</span>
<span style="top:156.2px;font-size:13.2px;line-height:18.5px;color:#808080;right:33.0px;">32305003812011040002</span>
<span style="top:181.8px;font-size:12.6px;line-height:17.6px;color:#666;left:32.6px;">计划保养日期</span>
<span style="top:181.9px;font-size:12.4px;line-height:17.4px;color:#808080;right:33.0px;">立即保养</span>
<span style="top:208.4px;font-size:12.6px;line-height:17.6px;color:#666;left:32.6px;">健康状态</span>
<span style="top:208.8px;font-size:12.0px;line-height:16.8px;color:#f23a3a;right:33.0px;font-weight:700;">特殊维修</span>
<i style="left:22.0px;top:255.0px;width:342.0px;height:123.2px;background:#fff;border-radius:5.0px;box-shadow:0 1px 5px rgba(0,0,0,.035);"></i>
<span style="top:267.2px;font-size:12.6px;line-height:17.6px;color:#666;left:32.6px;">内部编号</span>
<span style="top:266.3px;font-size:13.8px;line-height:19.3px;color:#808080;right:33.0px;">D2-3#</span>
<span style="top:293.2px;font-size:12.6px;line-height:17.6px;color:#666;left:32.6px;">注册编码</span>
<span style="top:292.8px;font-size:13.2px;line-height:18.5px;color:#808080;right:33.0px;">31305003812011040001</span>
<span style="top:318.4px;font-size:12.6px;line-height:17.6px;color:#666;left:32.6px;">计划保养日期</span>
<span style="top:318.5px;font-size:12.4px;line-height:17.4px;color:#808080;right:33.0px;">立即保养</span>
<span style="top:345.0px;font-size:12.6px;line-height:17.6px;color:#666;left:32.6px;">健康状态</span>
<span style="top:345.4px;font-size:12.0px;line-height:16.8px;color:#f2a83a;right:33.0px;font-weight:700;background:rgba(255,226,130,.75);">专项维修</span>
<i style="left:22.0px;top:391.6px;width:342.0px;height:123.2px;background:#fff;border-radius:5.0px;box-shadow:0 1px 5px rgba(0,0,0,.035);"></i>
<span style="top:403.8px;font-size:12.6px;line-height:17.6px;color:#666;left:32.6px;">内部编号</span>
<span style="top:402.9px;font-size:13.8px;line-height:19.3px;color:#808080;right:33.0px;">10#</span>
<span style="top:429.8px;font-size:12.6px;line-height:17.6px;color:#666;left:32.6px;">注册编码</span>
<span style="top:429.4px;font-size:13.2px;line-height:18.5px;color:#808080;right:33.0px;">32305003812011040003</span>
<span style="top:455.0px;font-size:12.6px;line-height:17.6px;color:#666;left:32.6px;">计划保养日期</span>
<span style="top:455.1px;font-size:12.4px;line-height:17.4px;color:#808080;right:33.0px;">7天后保养</span>
<span style="top:481.6px;font-size:12.6px;line-height:17.6px;color:#666;left:32.6px;">健康状态</span>
<span style="top:482.0px;font-size:12.0px;line-height:16.8px;color:#f0e23a;right:33.0px;font-weight:700;background:rgba(250,240,120,.8);">基础保养</span>
<i style="left:22.0px;top:528.2px;width:342.0px;height:123.2px;background:#fff;border-radius:5.0px;box-shadow:0 1px 5px rgba(0,0,0,.035);"></i>
<span style="top:540.4px;font-size:12.6px;line-height:17.6px;color:#666;left:32.6px;">内部编号</span>
<span style="top:539.5px;font-size:13.8px;line-height:19.3px;color:#808080;right:33.0px;">10#</span>
<span style="top:566.4px;font-size:12.6px;line-height:17.6px;color:#666;left:32.6px;">注册编码</span>
<span style="top:566.0px;font-size:13.2px;line-height:18.5px;color:#808080;right:33.0px;">31105001162016053556</span>
<span style="top:591.6px;font-size:12.6px;line-height:17.6px;color:#666;left:32.6px;">计划保养日期</span>
<span style="top:591.7px;font-size:12.4px;line-height:17.4px;color:#808080;right:33.0px;">3个月后保养</span>
<span style="top:618.2px;font-size:12.6px;line-height:17.6px;color:#666;left:32.6px;">健康状态</span>
<span style="top:618.6px;font-size:12.0px;line-height:16.8px;color:#46c846;right:33.0px;font-weight:700;background:rgba(190,240,180,.8);">正常</span>
<i style="left:0.0px;top:635.0px;width:385.0px;height:47.0px;background:#fff;border-radius:0.0px;"></i>
<span style="top:662.5px;font-size:9.6px;line-height:13.4px;color:#4aa0f0;left:-18.2px;width:160px;text-align:center;">电梯</span>
<span style="top:662.5px;font-size:9.6px;line-height:13.4px;color:#666;left:70.0px;width:160px;text-align:center;">工作</span>
<span style="top:662.5px;font-size:9.6px;line-height:13.4px;color:#666;left:157.6px;width:160px;text-align:center;">功能</span>
<span style="top:662.5px;font-size:9.6px;line-height:13.4px;color:#666;left:244.4px;width:160px;text-align:center;">我的</span>
</div>
<svg viewBox="0 0 192.5 341"><rect x="26.2" y="319.8" width="9.4" height="10.2" rx="1" fill="#9ccaf6" stroke="#5aa8f0" stroke-width=".7"/><path d="M30.9 320v10M26.4 324.8h9" stroke="#fff" stroke-width=".8"/><rect x="70.6" y="320.4" width="8.6" height="9.6" rx="1" fill="none" stroke="#666" stroke-width=".9"/><path d="M72.4 323.4h5M72.4 325.6h5M72.4 327.8h3" stroke="#666" stroke-width=".7"/><circle cx="81" cy="320.6" r="2.6" fill="#f04a2a"/><g fill="none" stroke="#666" stroke-width=".9"><rect x="114.4" y="320.4" width="3.8" height="3.8" rx=".6"/><rect x="119.6" y="320.4" width="3.8" height="3.8" rx=".6"/><rect x="114.4" y="325.6" width="3.8" height="3.8" rx=".6"/><rect x="119.6" y="325.6" width="3.8" height="3.8" rx=".6"/></g><g fill="none" stroke="#555" stroke-width=".9"><circle cx="162.2" cy="322.6" r="2.6"/><path d="M157.6 329.8q.6 -4.6 4.6 -4.6q4 0 4.6 4.6"/></g><circle cx="17.6" cy="43.7" r="1.7" fill="none" stroke="#c4c4ca" stroke-width=".7"/><path d="M18.9 45l1.5 1.5" stroke="#c4c4ca" stroke-width=".7"/><path d="M174.4 20.8a4.4 3.8 0 1 1 2.2 3.3l-2 .9l.5 -1.9a3.8 3.8 0 0 1 -.7 -2.3z" fill="none" stroke="#777" stroke-width=".8"/><path d="M177 20.8h3.8" stroke="#777" stroke-width=".7"/><circle cx="183.2" cy="16.2" r="2.9" fill="#f04a2a"/><path d="M97.4 19.9l2 2l2 -2" fill="none" stroke="#444" stroke-width=".9"/><path d="M25.6 5.4q2.8 -2.4 5.6 0M26.8 6.7q1.6 -1.3 3.2 0" fill="none" stroke="#222" stroke-width=".9"/><circle cx="28.4" cy="7.8" r=".7" fill="#222"/></svg></div>

<svg id="arrows" class="layer" width="1604" height="2268" viewBox="0 0 1604 2268">
<defs><symbol id="ico" viewBox="0 0 56 62" overflow="visible"><g fill="none" stroke="#1c2088" stroke-width="4.7" stroke-linejoin="round"><rect x="8.65" y="29.45" width="8.1" height="20.3" rx="1.4"/><rect x="25.15" y="3.95" width="7.8" height="45.8" rx="1.4"/><path d="M49.45 36.6V21.85a1.4 1.4 0 0 0 -1.4 -1.4h-5.2a1.4 1.4 0 0 0 -1.4 1.4v26.5a1.4 1.4 0 0 0 1.4 1.4h5.2a1.4 1.4 0 0 0 1.4 -1.4v-3.6" stroke-linecap="round"/><path d="M4 58.45H53.6" stroke-width="4.7" stroke-linecap="round"/></g></symbol></defs>
<g fill="none" stroke="#0a4189" stroke-width="3.8" stroke-linecap="round">
<path d="M372.1 919.4C373.1 914.8 375.5 901.1 377.8 892.0C380.1 882.9 382.9 873.7 386.1 864.6C389.3 855.5 392.7 846.4 397.0 837.2C401.3 828.1 406.4 818.2 412.1 809.7C417.8 801.2 424.0 793.9 431.3 786.4C438.6 778.9 447.3 771.1 456.0 764.5C464.7 757.9 474.2 751.8 483.4 746.6C492.5 741.5 501.8 737.2 510.9 733.6C520.0 730.0 530.1 727.3 538.3 725.0C546.5 722.7 553.0 721.7 560.0 720.0C567.0 718.3 573.3 716.5 580.0 715.0C586.7 713.5 593.2 712.1 600.0 710.8C606.8 709.5 615.6 708.2 620.6 707.4C625.6 706.6 628.3 706.3 629.8 706.1"/>
<path d="M908.0 715.0C913.3 716.2 927.9 719.3 939.9 722.3C951.9 725.3 966.5 729.0 979.8 732.9C993.1 736.8 1006.4 740.9 1019.7 745.9C1033.0 750.9 1046.3 756.5 1059.6 762.8C1072.9 769.1 1087.9 777.0 1099.5 783.8C1111.1 790.6 1120.1 796.7 1129.4 803.7C1138.7 810.7 1147.8 818.4 1155.4 825.7C1163.1 833.0 1169.7 840.6 1175.3 847.6C1180.9 854.6 1185.3 861.3 1189.3 867.6C1193.3 873.9 1197.2 881.0 1199.2 885.5C1201.2 890.0 1200.6 891.6 1201.4 894.5C1202.2 897.4 1203.5 901.3 1203.9 902.6"/>
<path d="M1237.9 995.3C1241.2 1002.1 1252.9 1023.5 1258.0 1036.0C1263.1 1048.5 1266.4 1060.2 1268.5 1070.0C1270.6 1079.8 1270.5 1085.7 1270.4 1095.0C1270.3 1104.3 1269.9 1116.3 1268.0 1126.0C1266.1 1135.7 1261.1 1147.2 1259.0 1153.0C1256.9 1158.8 1256.1 1159.4 1255.5 1160.6"/>
<path d="M1187.0 1252.0C1180.7 1259.5 1163.1 1283.0 1149.3 1297.3C1135.5 1311.6 1123.1 1323.5 1104.4 1337.7C1085.7 1351.9 1059.4 1369.9 1037.0 1382.6C1014.6 1395.3 987.6 1406.1 969.8 1414.0C952.0 1421.9 938.2 1426.6 930.0 1430.0C921.8 1433.4 922.3 1433.4 920.7 1434.1"/>
<path d="M648.1 1447.2C638.3 1443.9 610.3 1435.5 589.3 1427.5C568.3 1419.5 542.6 1409.9 522.0 1399.4C501.4 1388.9 482.7 1377.1 465.9 1364.6C449.1 1352.1 433.0 1337.0 421.0 1324.3C409.0 1311.6 400.3 1297.6 394.0 1288.3C387.7 1279.0 385.2 1271.8 383.5 1268.5"/>
<path d="M344.4 1177.6C342.8 1169.5 336.9 1143.3 335.0 1129.0C333.1 1114.7 332.6 1104.0 333.2 1091.5C333.8 1079.0 336.5 1066.0 338.8 1054.1C341.1 1042.2 345.3 1026.8 347.0 1020.0C348.7 1013.2 348.7 1014.7 349.0 1013.6"/>
</g>
<g fill="#0b4c96" stroke="none">
<path d="M645.3 704.0 L620.9 717.2 L618.2 697.9 Z"/>
<path d="M1208.6 917.5 L1191.5 895.6 L1210.1 889.8 Z"/>
<path d="M1249.0 1174.8 L1251.0 1147.1 L1268.7 1155.2 Z"/>
<path d="M906.5 1440.5 L926.3 1421.0 L934.2 1438.8 Z"/>
<path d="M377.2 1254.2 L396.6 1274.1 L378.7 1281.9 Z"/>
<path d="M353.7 998.7 L355.2 1026.4 L336.6 1020.6 Z"/>
</g>
<use href="#ico" x="913.0" y="764.0" width="56" height="62"/>
<use href="#ico" x="1018.0" y="1040.1" width="56" height="62"/>
<use href="#ico" x="892.2" y="1298.4" width="56" height="62"/>
<use href="#ico" x="465.0" y="1311.4" width="56" height="62"/>
<use href="#ico" x="339.1" y="1053.6" width="56" height="62"/>
</svg>
<h1 id="title" class="abs">电梯保险解决方案</h1>
<p id="desc" class="abs">结合按需维保保证电梯维保质量的前提下，提供电梯责任险，财产险，<br>全生命周期损失险等组合方案。保障电梯一生安全无忧。</p>
<h2 id="sub" class="abs">按需维保平台提供数据支撑</h2>

<div class="box" style="left:647px;top:662px"><b>1.</b>电梯体检</div>
<div class="box" style="left:1083px;top:919px"><b>2.</b>电梯投保</div>
<div class="box" style="left:1083px;top:1176px"><b>3.</b>物联网监控</div>
<div class="box" style="left:647px;top:1432px"><b>3.</b>按需维保</div>
<div class="box" style="left:237px;top:1176px"><b>5.</b>责任赔付</div>
<div class="box" style="left:237px;top:919px"><b>6.</b>报废更换</div>
<div id="center">全生命周期</div>

<div class="lab" style="left:978px;top:778px">体检数据</div>
<div class="lab" style="left:1090px;top:1054px">保险数据</div>
<div class="lab" style="left:964px;top:1312px">运行数据</div>
<div class="lab" style="left:537px;top:1324px">维保数据</div>
<div class="lab" style="left:405px;top:1065px">出险数据</div>

<div class="cap" style="left:407px;top:1570px">梯联电梯按需维保平台</div>
<div class="cap" style="left:1155px;top:1570px">梯控物联App</div>
<div id="plus"></div>

</body>
</html>
